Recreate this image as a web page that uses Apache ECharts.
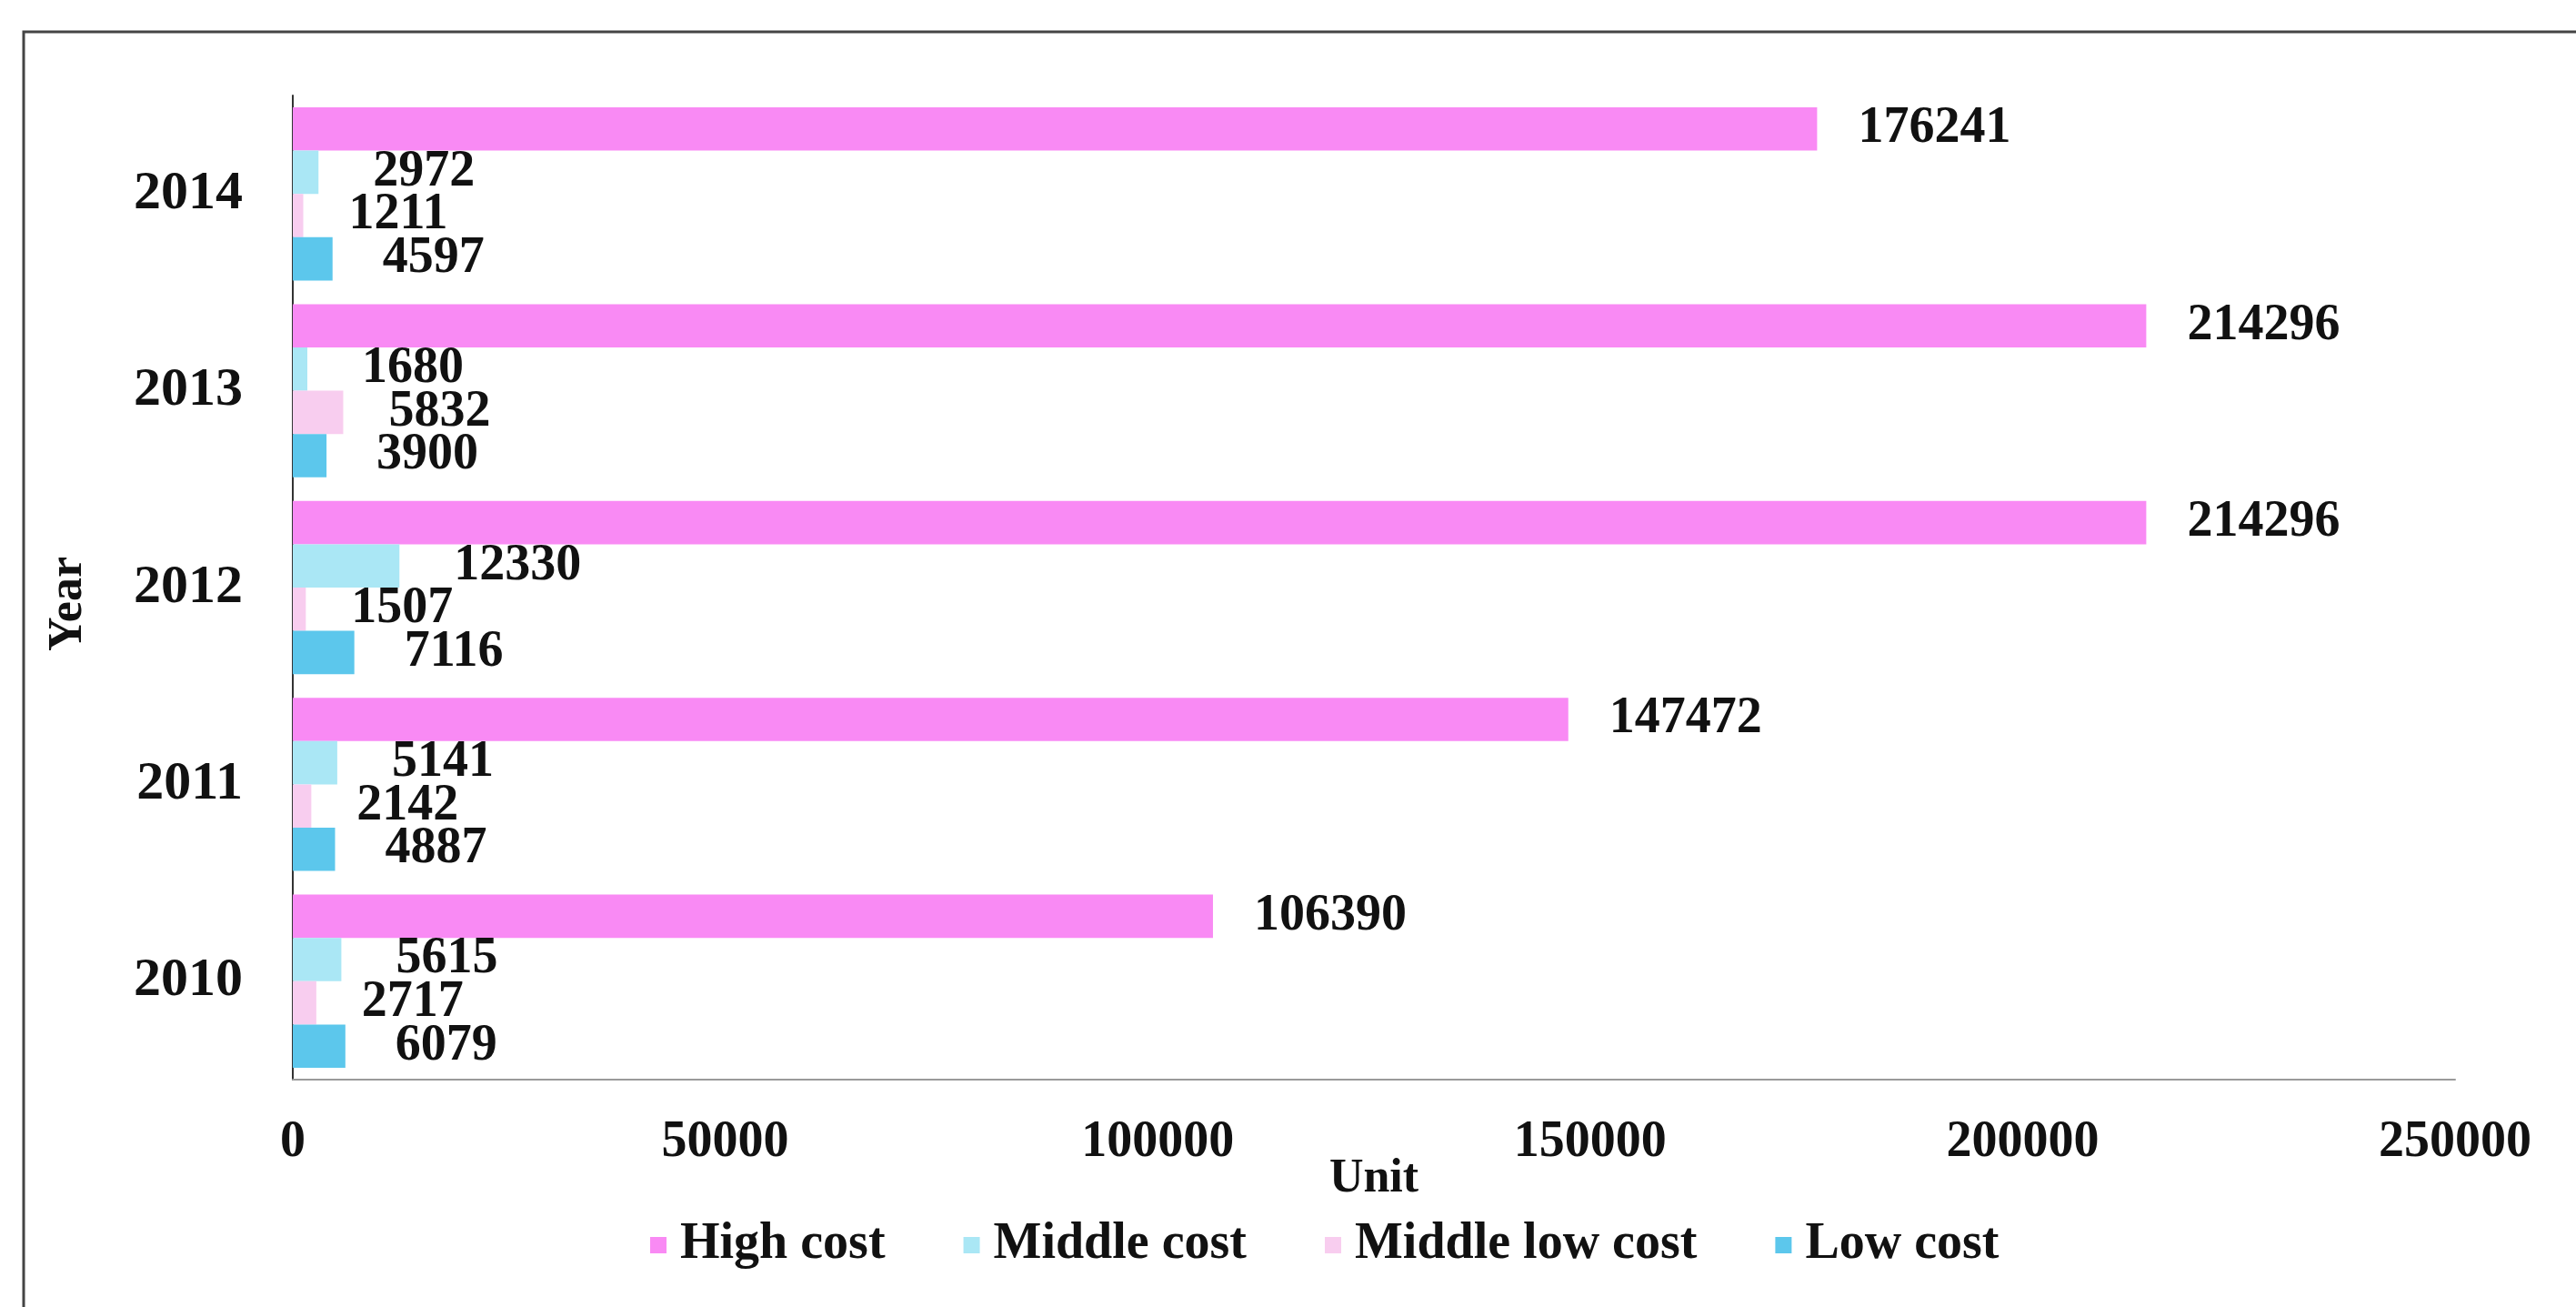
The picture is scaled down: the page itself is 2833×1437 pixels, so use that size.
<!DOCTYPE html>
<html>
<head>
<meta charset="utf-8">
<script src="https://cdn.jsdelivr.net/npm/echarts@6/dist/echarts.min.js"></script>
<style>
  html, body { margin: 0; padding: 0; background: #fff; }
  #chart { width: 2833px; height: 1437px; }
</style>
</head>
<body>
<div id="chart"></div>
<script>
// top-to-bottom order as in the picture (y axis is inverted)
const years = ['2014', '2013', '2012', '2011', '2010']
const seriesNames = ['High cost', 'Middle cost', 'Middle low cost', 'Low cost']
const highCost = [176241, 214296, 214296, 147472, 106390]
const middleCost = [2972, 1680, 12330, 5141, 5615]
const middleLowCost = [1211, 5832, 1507, 2142, 2717]
const lowCost = [4597, 3900, 7116, 4887, 6079]
const xTicks = [0, 50000, 100000, 150000, 200000, 250000]

const colors = ['#f98af4', '#aae7f5', '#f8cdef', '#5cc7ec']
const font = '"Liberation Serif", "DejaVu Serif", serif'

const chart = echarts.init(document.getElementById('chart'))

const mkSeries = (name, data, color, dist) => ({
  name,
  type: 'bar',
  data,
  barGap: '0%',
  barCategoryGap: '12%',
  itemStyle: { color },
  label: {
    show: true,
    position: 'right',
    distance: dist,
    color: '#111',
    fontFamily: font,
    fontWeight: 'bold',
    fontSize: 56,
  },
})

chart.setOption({
  backgroundColor: '#fff',
  animation: false,
  grid: { left: 322, right: 133, top: 105, bottom: 250 },
  graphic: [
    {
      type: 'rect',
      shape: { x: 26, y: 35, width: 2900, height: 1500 },
      style: { fill: 'none', stroke: '#444', lineWidth: 3 },
      silent: true,
    },
  ],
  legend: {
    data: seriesNames,
    left: 710,
    top: 1336,
    itemWidth: 18,
    itemHeight: 18,
    itemGap: 86,
    icon: 'rect',
    textStyle: {
      fontFamily: font,
      fontWeight: 'bold',
      fontSize: 56,
      color: '#111',
      padding: [0, 0, 0, 10],
    },
  },
  xAxis: {
    type: 'value',
    min: xTicks[0],
    max: xTicks[xTicks.length - 1],
    interval: 50000,
    name: 'Unit',
    nameLocation: 'middle',
    nameGap: 84,
    nameMoveOverlap: false,
    nameTextStyle: { fontFamily: font, fontWeight: 'bold', fontSize: 52, color: '#111' },
    axisLine: { show: true, lineStyle: { color: '#9a9a9a', width: 2 } },
    axisTick: { show: false },
    splitLine: { show: false },
    axisLabel: {
      margin: 42,
      fontFamily: font,
      fontWeight: 'bold',
      fontSize: 56,
      color: '#111',
      formatter: (v) => String(v),
    },
  },
  yAxis: {
    type: 'category',
    data: years,
    inverse: true,
    name: 'Year',
    nameLocation: 'middle',
    nameGap: 220,
    nameRotate: 90,
    nameMoveOverlap: false,
    nameTextStyle: {
      fontFamily: font,
      fontWeight: 'bold',
      fontSize: 52,
      color: '#111',
      padding: [0, 36, 0, 0],
    },
    axisLine: { show: true, lineStyle: { color: '#333', width: 2 } },
    axisTick: { show: false },
    axisLabel: {
      margin: 55,
      fontFamily: font,
      fontWeight: 'bold',
      fontSize: 60,
      color: '#111',
    },
  },
  series: [
    mkSeries(seriesNames[0], highCost, colors[0], 45),
    mkSeries(seriesNames[1], middleCost, colors[1], 60),
    mkSeries(seriesNames[2], middleLowCost, colors[2], 50),
    mkSeries(seriesNames[3], lowCost, colors[3], 55),
  ],
})
</script>
</body>
</html>
